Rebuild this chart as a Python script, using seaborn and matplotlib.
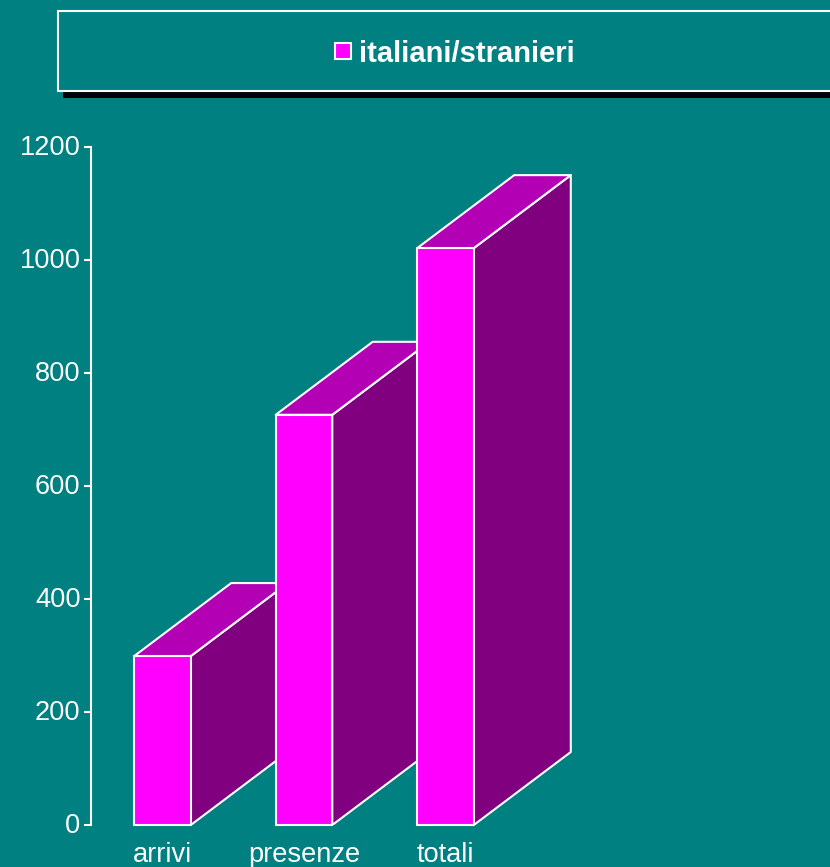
import matplotlib
matplotlib.use("Agg")
import matplotlib.pyplot as plt
import matplotlib.transforms as mtransforms
import pandas as pd
import seaborn as sns
from matplotlib.patches import Polygon, Rectangle

categories = ["arrivi", "presenze", "totali"]
values = [299, 726, 1021]
series_name = "italiani/stranieri"
y_ticks = [0, 200, 400, 600, 800, 1000, 1200]

BG = "#008080"
FRONT = "#FF00FF"
TOP = "#B400B4"
SIDE = "#800080"
W, H = 830, 867

sns.set_theme(style="white")
plt.rcParams["font.family"] = ["Liberation Sans", "DejaVu Sans"]

fig = plt.figure(figsize=(W / 100, H / 100), dpi=100, facecolor=BG)
ax = fig.add_axes([91 / W, 1 - 825 / H, (W - 91) / W, 678 / H], facecolor=BG)

df = pd.DataFrame({"categoria": categories, "valore": values})
sns.barplot(data=df, x="categoria", y="valore", color=FRONT, saturation=1,
            width=0.4, edgecolor="white", linewidth=1.5, ax=ax, clip_on=False)

unit = 141.5
ax.set_xlim(-(162.5 - 91) / unit, (W - 162.5) / unit)
ax.set_ylim(0, 1200)

depth_x = 97 / unit
depth_y = 73 / 678 * 1200
half = 0.2
for i, (bar, v) in enumerate(zip(ax.patches, values)):
    bar.set_zorder(5 + 2 * i)
    side = [(i + half, 0), (i + half + depth_x, depth_y),
            (i + half + depth_x, v + depth_y), (i + half, v)]
    top = [(i - half, v), (i - half + depth_x, v + depth_y),
           (i + half + depth_x, v + depth_y), (i + half, v)]
    ax.add_patch(Polygon(side, closed=True, fc=SIDE, ec="white", lw=1.5,
                         zorder=4 + 2 * i, joinstyle="round"))
    ax.add_patch(Polygon(top, closed=True, fc=TOP, ec="white", lw=1.5,
                         zorder=4 + 2 * i, joinstyle="round"))

for s in ["top", "right", "bottom"]:
    ax.spines[s].set_visible(False)
ax.spines["left"].set_color("white")
ax.spines["left"].set_linewidth(1.5)
ax.set_yticks(y_ticks)
ax.set_xlabel("")
ax.set_ylabel("")
ax.tick_params(axis="y", left=True, length=5, width=1.5, color="white",
               labelcolor="white", labelsize=19.6, pad=2.5)
ax.tick_params(axis="x", bottom=False, labelcolor="white", labelsize=19.6, pad=6.5)
lift = mtransforms.ScaledTranslation(0, 2 / 100, fig.dpi_scale_trans)
for label in ax.get_yticklabels():
    label.set_transform(label.get_transform() + lift)

# Legend box with drop shadow, running off the right edge
fig.add_artist(Rectangle((63 / W, 1 - 98 / H), 800 / W, 80 / H,
                         transform=fig.transFigure, fc="black", ec="none"))
fig.add_artist(Rectangle((58 / W, 1 - 91 / H), 800 / W, 80 / H,
                         transform=fig.transFigure, fc=BG, ec="white", lw=1.5))
fig.add_artist(Rectangle((335 / W, 1 - 59 / H), 16 / W, 16 / H,
                         transform=fig.transFigure, fc=FRONT, ec="white", lw=1.5))
fig.text(359 / W, 1 - 54 / H, series_name, color="white", fontsize=21,
         fontweight="bold", ha="left", va="center")

fig.savefig("out.png", dpi=100, facecolor=BG)
